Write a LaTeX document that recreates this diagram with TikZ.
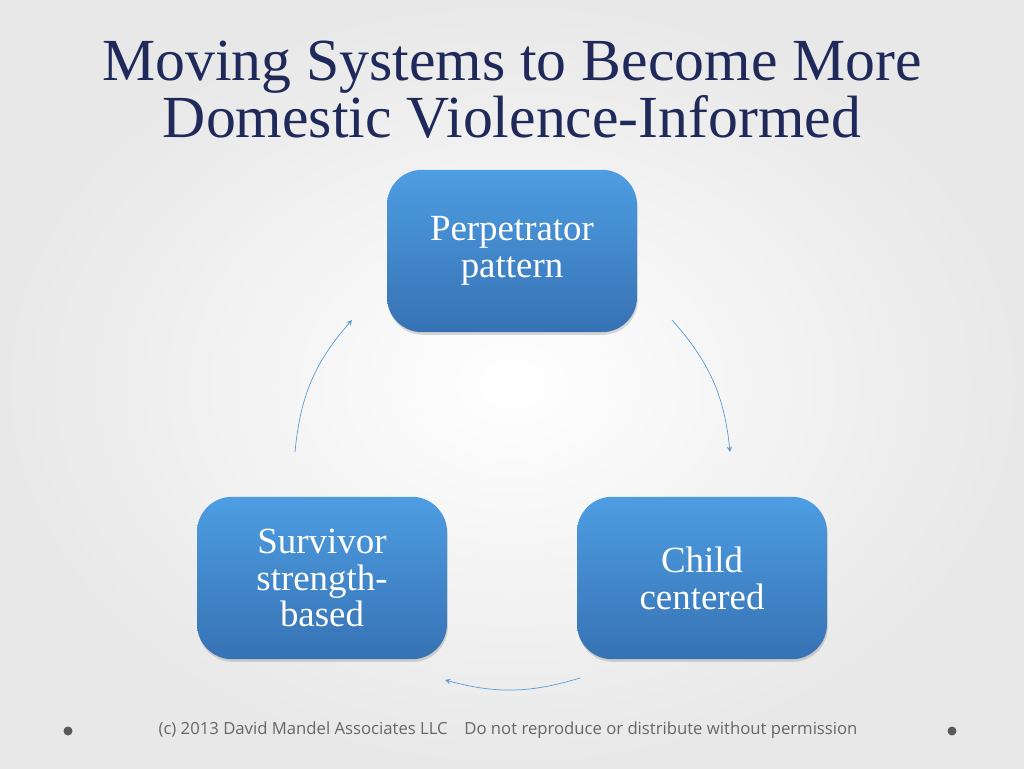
\documentclass[tikz,border=0pt]{standalone}
\usepackage{fontspec}
\setmainfont{Liberation Serif}
\newfontfamily\footfont{Open Sans}
\usetikzlibrary{positioning,shadows}
\definecolor{titleblue}{HTML}{1F2A5A}
\definecolor{boxtop}{HTML}{4E9DE2}
\definecolor{boxbot}{HTML}{3672B4}
\definecolor{linkblue}{HTML}{5B9BD5}
\tikzset{
  stage/.style={rounded corners=20pt, top color=boxtop, bottom color=boxbot,
    draw=none, minimum width=5cm, minimum height=3.25cm, text=white,
    align=center, font=\fontsize{21}{21}\selectfont,
    drop shadow={shadow xshift=0.5pt, shadow yshift=-1.5pt, opacity=0.3}},
  link/.style={->, >=stealth, draw=linkblue, thin}
}
\begin{document}
\begin{tikzpicture}[x=0.02cm,y=-0.02cm]
  \shade[inner color=white, outer color=gray!18] (0,0) rectangle (1024,768);
  \useasboundingbox (0,0) rectangle (1024,768);

  \node[text=titleblue, align=center, font=\fontsize{34}{31}\selectfont] (title) at (512,90)
    {Moving Systems to Become More\\Domestic Violence-Informed};

  \node[stage] (perp) at (512,251) {Perpetrator\\pattern};
  \node[stage] (child) at (702,578) {Child\\centered};
  \node[stage] (surv) at (322,578) {Survivor\\strength-\\based};

  % arrows
  \coordinate (a1) at (672,320);
  \coordinate (a2) at (730,452);
  \coordinate (b1) at (580,678);
  \coordinate (b2) at (445,680);
  \coordinate (c1) at (295,452);
  \coordinate (c2) at (352,320);
  \draw[link] (a1) to[bend left=18] (a2);
  \draw[link] (b1) to[bend left=16] (b2);
  \draw[link] (c1) to[bend left=18] (c2);

  \node[text=gray!80!black, font=\footfont\fontsize{9.5}{11}\selectfont] (foot) at (508,730)
    {(c) 2013 David Mandel Associates LLC\quad Do not reproduce or distribute without permission};
  \fill[gray!70!black] (68,731) circle (4.5);
  \fill[gray!70!black] (952,731) circle (4.5);
\end{tikzpicture}
\end{document}
